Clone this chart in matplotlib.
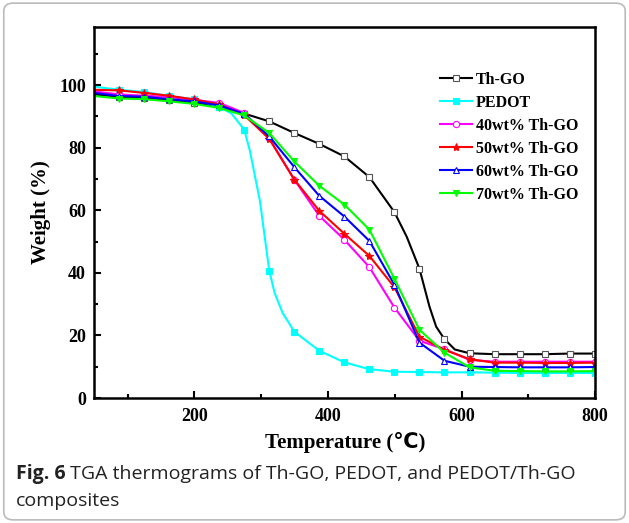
import matplotlib
matplotlib.use('Agg')
import matplotlib.pyplot as plt
from matplotlib.patches import FancyBboxPatch
from matplotlib.ticker import MultipleLocator

# temperatures where the markers sit (deg C)
t_mark = [87, 124.5, 162, 199.5, 237, 274.5, 312, 349.5, 387, 424.5, 462,
          499.5, 537, 574.5, 612, 649.5, 687, 724.5, 762, 799.5]

# Th-GO
t_thgo = [50] + t_mark[:12] + [518] + t_mark[12:13] + [552, 562] + t_mark[13:14] + \
         [590] + t_mark[14:]
w_thgo = [97.0, 96.3, 95.8, 95.2, 94.3, 93.0, 90.9, 88.4, 84.7, 81.2, 77.2, 70.6,
          59.4, 51.5, 41.3, 29.2, 22.8, 18.8, 15.5, 14.3, 14.0, 14.0, 14.0, 14.2, 14.2]

# PEDOT
t_pedot = [50] + t_mark[:5] + [255] + t_mark[5:6] + [283, 298] + t_mark[6:7] + \
          [320, 332] + t_mark[7:]
w_pedot = [99.5, 98.5, 97.8, 96.5, 95.5, 93.0, 91.0, 85.8, 79.0, 63.0, 40.7,
           33.6, 27.2, 21.2, 15.1, 11.4, 9.2, 8.4, 8.3, 8.2, 8.2, 8.1, 8.0, 8.0,
           8.0, 8.0]

t_comp = [50] + t_mark
w_40 = [98.0, 97.0, 96.6, 96.2, 95.3, 94.3, 91.1, 83.0, 69.8, 58.2, 50.6, 41.8,
        28.9, 18.3, 15.6, 12.2, 11.6, 11.6, 11.6, 11.6, 11.6]
w_50 = [98.5, 98.3, 97.5, 96.6, 95.4, 93.8, 90.4, 82.8, 69.8, 59.8, 52.5, 45.4,
        35.4, 19.6, 15.4, 12.4, 11.3, 11.3, 11.2, 11.2, 11.3]
w_60 = [97.5, 96.5, 96.3, 95.5, 94.8, 93.5, 90.8, 83.6, 73.8, 64.6, 58.0, 50.2,
        36.2, 17.7, 11.9, 10.0, 9.9, 9.8, 9.8, 9.8, 9.9]
w_70 = [96.5, 95.7, 95.5, 94.8, 94.0, 92.7, 90.3, 84.7, 75.6, 67.8, 61.8, 53.8,
        38.1, 21.8, 14.5, 9.8, 8.7, 8.6, 8.5, 8.5, 8.6]

labels = ['Th-GO', 'PEDOT', '40wt% Th-GO', '50wt% Th-GO', '60wt% Th-GO', '70wt% Th-GO']
serif = ['Liberation Serif', 'DejaVu Sans']

fig = plt.figure(figsize=(6.29, 5.23), dpi=100)
ax = fig.add_axes([0.150, 0.239, 0.796, 0.709])


def marks(t):
    return [i for i, v in enumerate(t) if v in t_mark]


series = [
    (t_thgo, w_thgo, 'black', 's', 'white'),
    (t_pedot, w_pedot, '#00FFFF', 's', '#00FFFF'),
    (t_comp, w_40, '#FF00FF', 'o', 'white'),
    (t_comp, w_50, '#FF0000', '*', '#FF0000'),
    (t_comp, w_60, '#0000FF', '^', 'white'),
    (t_comp, w_70, '#00FF00', 'v', '#00FF00'),
]
for (t, w, c, m, fc), lab in zip(series, labels):
    ms = 6 if m == '*' else 4.5
    ax.plot(t, w, color=c, lw=1.5, marker=m, ms=ms, mfc=fc, mec=c,
            mew=0.8, markevery=marks(t), label=lab)
# black squares have grey edge in the picture
ax.lines[0].set_markeredgecolor('#555555')

ax.set_xlim(50, 800)
ax.set_ylim(0, 118.5)
ax.xaxis.set_major_locator(MultipleLocator(200))
ax.xaxis.set_minor_locator(MultipleLocator(100))
ax.yaxis.set_major_locator(MultipleLocator(20))
ax.yaxis.set_minor_locator(MultipleLocator(10))
ax.tick_params(which='both', direction='in', width=1.5, top=False, right=False)
ax.tick_params(which='major', length=5)
ax.tick_params(which='minor', length=3)
ax.tick_params(axis='x', pad=7)
ax.tick_params(axis='y', pad=6)
for s in ax.spines.values():
    s.set_linewidth(1.8)
for lab in ax.get_xticklabels() + ax.get_yticklabels():
    lab.set_family(serif)
    lab.set_fontweight('bold')
    lab.set_fontsize(13)

ax.set_xlabel('Temperature (℃)', family=serif, fontweight='bold', fontsize=15, labelpad=5)
ax.set_ylabel('Weight (%)', family=serif, fontweight='bold', fontsize=15, labelpad=6)

ax.legend(loc='upper left', bbox_to_anchor=(0.69, 0.88), frameon=False,
          handlelength=2.0, handletextpad=0.25, labelspacing=0.44,
          borderaxespad=0, borderpad=0,
          prop={'family': serif, 'weight': 'bold', 'size': 11.5})

# caption
t1 = fig.text(0.025, 0.094, 'Fig. 6', family='Open Sans', fontweight='bold', fontsize=14,
              color='#222222', va='center')
fig.add_artist(plt.Annotation(' TGA thermograms of Th-GO, PEDOT, and PEDOT/Th-GO',
                              xy=(1, 0.5), xycoords=t1, va='center', ha='left',
                              family='Open Sans', fontsize=14, color='#222222'))
fig.text(0.025, 0.042, 'composites', family='Open Sans', fontsize=14,
         color='#222222', va='center')

frame = FancyBboxPatch((0.006, 0.006), 0.988, 0.988, boxstyle='round,pad=0,rounding_size=0.015',
                       transform=fig.transFigure, fill=False, ec='#bbbbbb', lw=1.2)
fig.patches.append(frame)

fig.savefig('out.png', dpi=100)
